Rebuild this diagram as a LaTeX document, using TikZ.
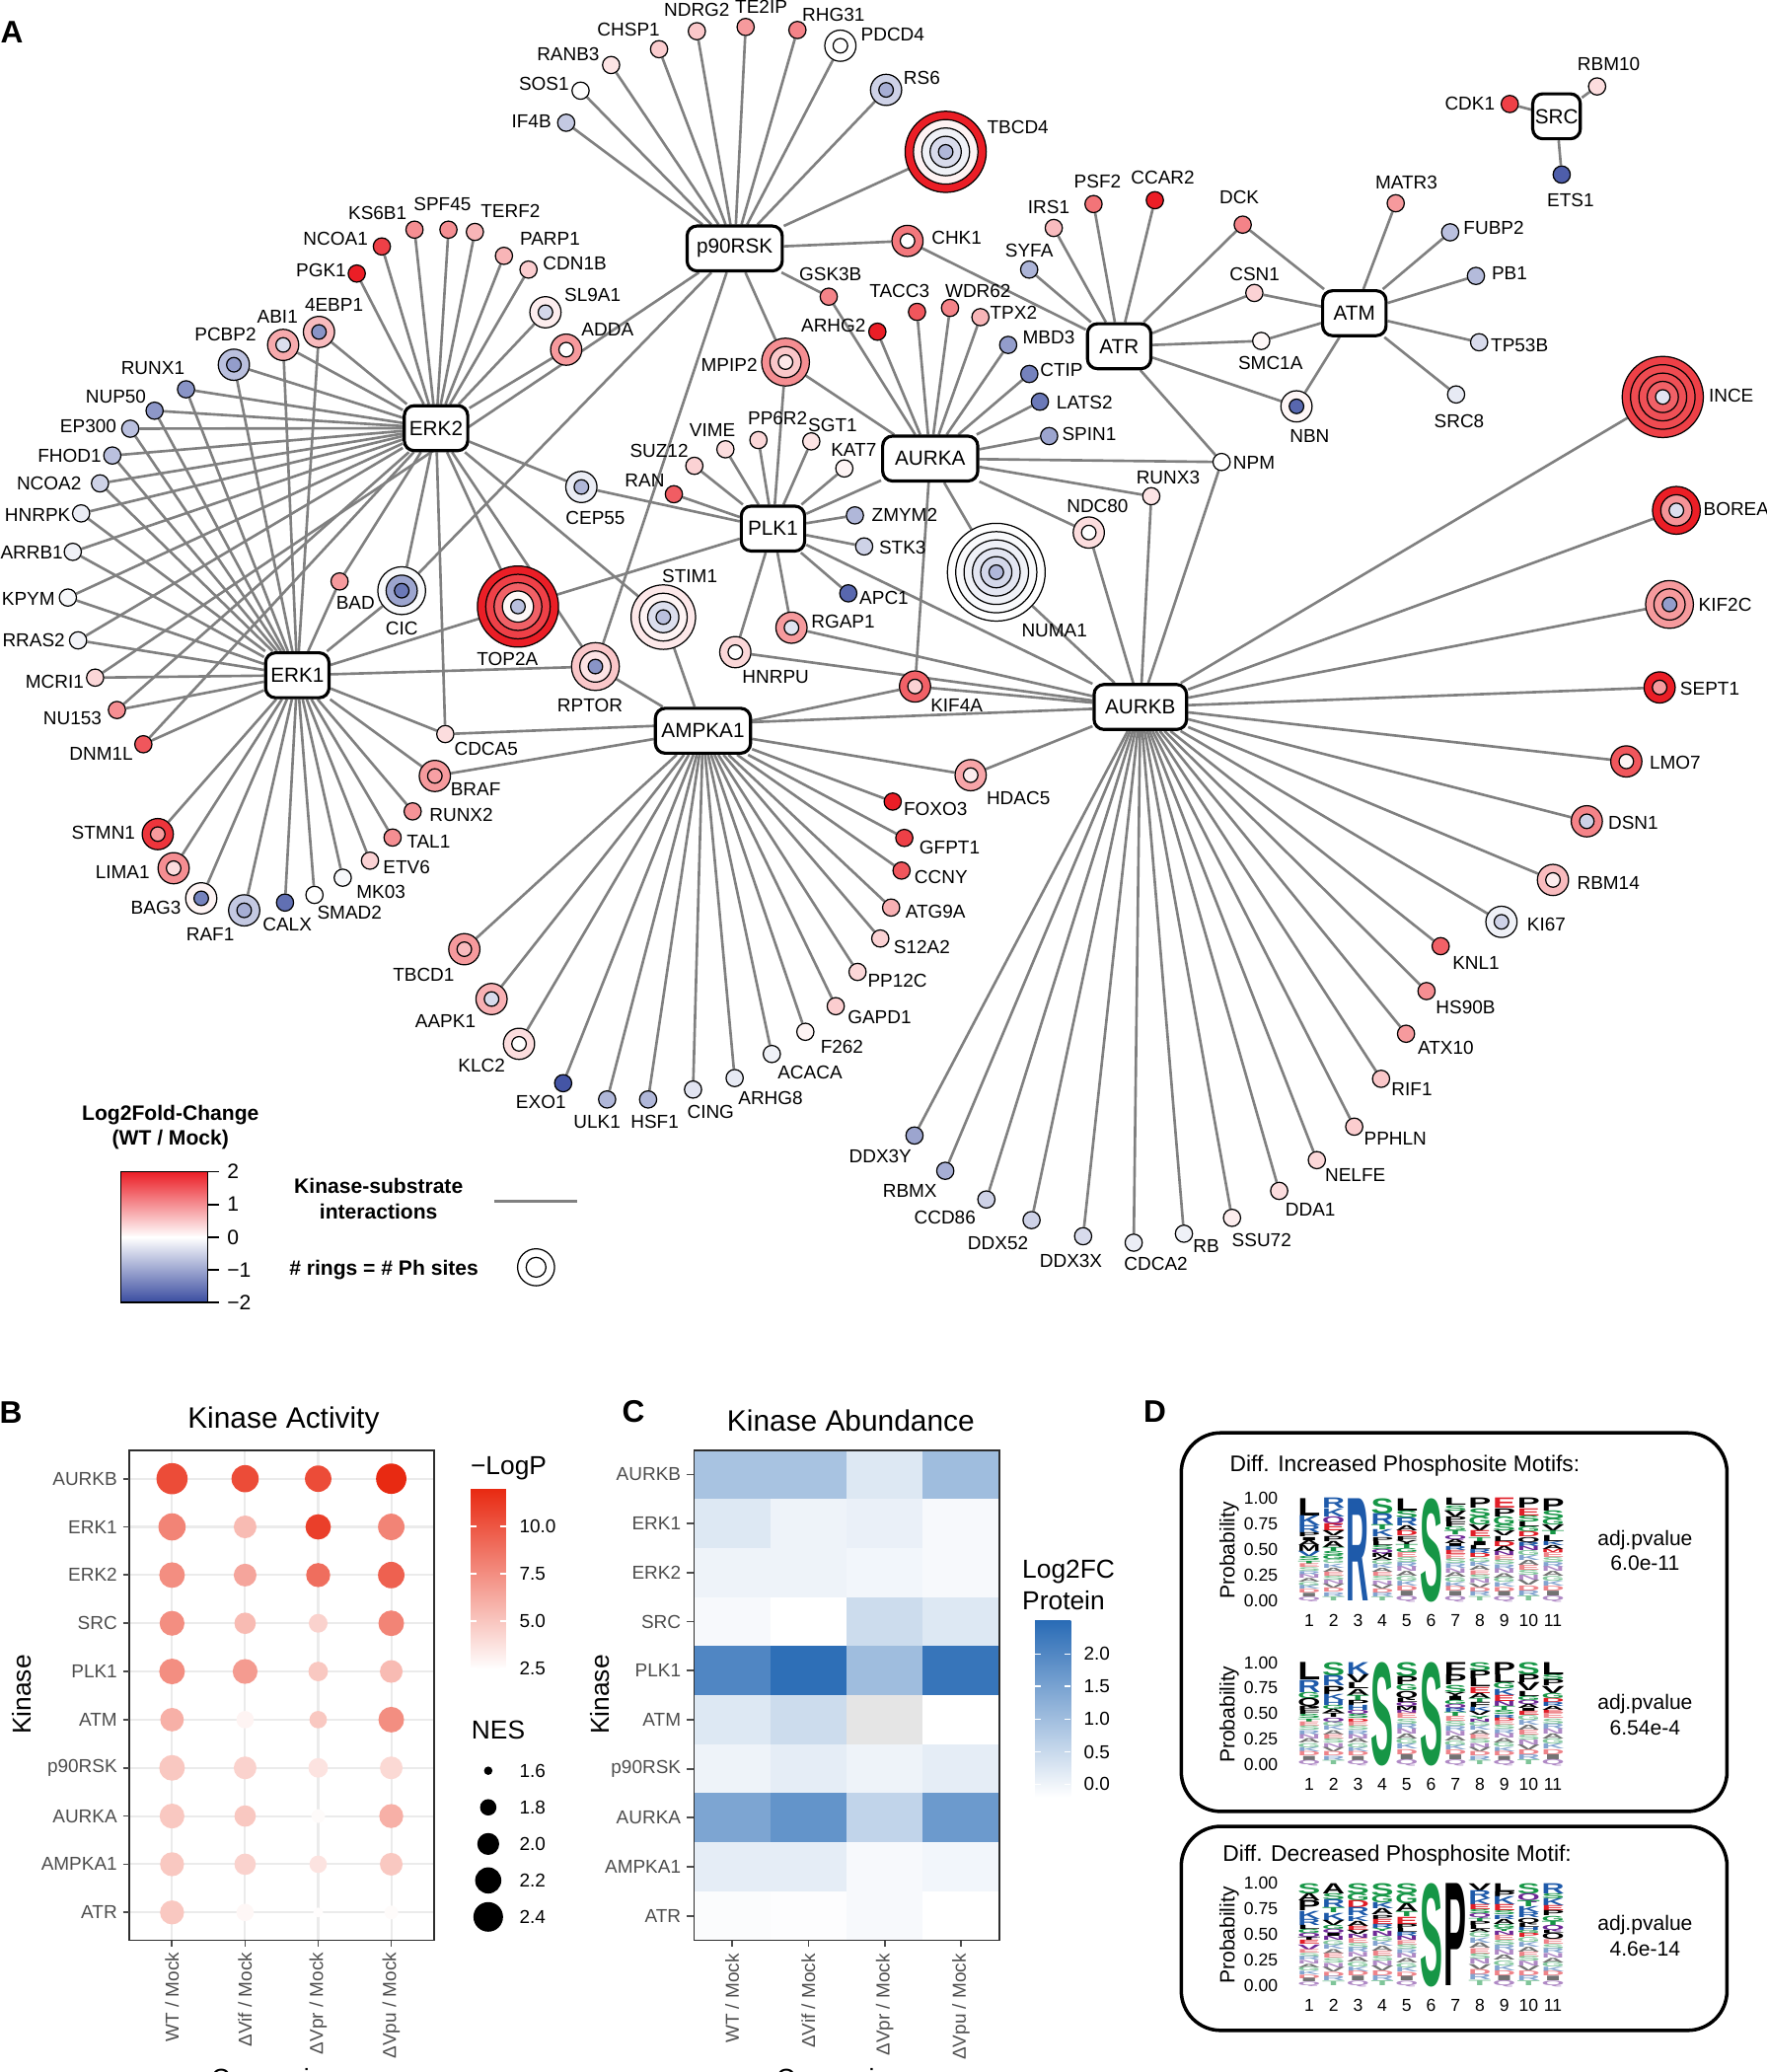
\documentclass[tikz,border=0pt]{standalone}
\usepackage{fontspec}
\setmainfont{Liberation Sans}
\setsansfont{Liberation Sans}
\usepackage{graphicx}
\usepackage{xcolor}
\definecolor{lfcred}{RGB}{235,30,38}
\definecolor{lfcblue}{RGB}{58,76,160}
\definecolor{edgegray}{RGB}{128,128,128}
\definecolor{lpred}{RGB}{232,42,18}
\definecolor{heatblue}{RGB}{42,108,182}
\definecolor{axisgray}{RGB}{77,77,77}
\definecolor{gridgray}{RGB}{235,235,235}
\definecolor{lk}{RGB}{0,0,0}
\definecolor{lg}{RGB}{22,150,70}
\definecolor{lb}{RGB}{30,90,170}
\definecolor{lr}{RGB}{225,30,40}
\definecolor{lp}{RGB}{110,40,150}
\newcommand\ovu{0.13396mm}
\pgfdeclarelayer{background}
\pgfsetlayers{background,main}
\tikzset{
  kin/.style={draw, line width=0.9pt, rounded corners=1mm, fill=white, inner sep=0,
    minimum height=34*\ovu, font=\fontsize{5.9}{6.5}\selectfont},
  sub/.style={circle, draw, line width=0.35pt, inner sep=0},
  lbl/.style={inner sep=0, font=\fontsize{5.4}{6}\selectfont},
  edge/.style={draw=edgegray, line width=0.75pt},
  panel/.style={inner sep=0, font=\bfseries\fontsize{9}{10}\selectfont},
  ttl/.style={inner sep=0, font=\fontsize{8.5}{10}\selectfont},
  axl/.style={inner sep=0, text=axisgray, font=\fontsize{5.4}{6}\selectfont},
  axt/.style={inner sep=0, font=\fontsize{7.5}{9}\selectfont},
  leg/.style={inner sep=0, font=\fontsize{5.4}{6}\selectfont},
  tick/.style={axisgray, line width=0.5pt},
  gridln/.style={gridgray, line width=0.6pt},
  logo/.style={anchor=north west, inner sep=0, outer sep=0, font=\bfseries},
}
% one column of a sequence logo: #1 position, #2 top of the axis, #3 letters from the top
\newcommand\logocol[3]{%
  \gdef\logoy{0}%
  \foreach \l/\c/\h in {#3}{
    \pgfmathsetmacro\logoh{\h*77.3*0.13396}
    \node[logo, text=\c] at ({990.8+18.45*(#1-1)-8.6},{#2+\logoy*77.3}) {\resizebox{2.3mm}{\logoh mm}{\l}};
    \pgfmathsetmacro\logotmp{\logoy+\h}\global\let\logoy\logotmp
  }
  \ifodd#1
    \def\logotail{E/lr,S/lg,R/lb,N/lp,A/lk,G/lg,K/lb,D/lr,I/lk,Q/lp}%
  \else
    \def\logotail{G/lg,K/lb,A/lk,E/lr,S/lg,N/lp,V/lk,D/lr,R/lb,T/lg}%
  \fi
  \pgfmathsetmacro\logorest{(1-\logoy)/10}
  \ifdim\logorest pt>0.002pt
    \foreach \l/\c in \logotail{
      \pgfmathsetmacro\logoh{\logorest*77.3*0.13396}
      \node[logo, text=\c!55] at ({990.8+18.45*(#1-1)-8.6},{#2+\logoy*77.3}) {\resizebox{2.3mm}{\logoh mm}{\l}};
      \pgfmathsetmacro\logotmp{\logoy+\logorest}\global\let\logoy\logotmp
    }
  \fi
}

\begin{document}
\begin{tikzpicture}[x=\ovu, y=-\ovu]
  \useasboundingbox (0,0) rectangle (1337,1568);
  \node[panel] (A-lab) at (9,24) {A};

  % kinases
  \foreach \n/\x/\y/\w in {p90RSK/556/188/72, ERK2/330/324/48, ERK1/225/511/48,
      PLK1/585/400/48, AURKA/704/347/72, ATR/847/262/48, ATM/1025/237/48,
      SRC/1178/88/36, AMPKA1/532/553/72, AURKB/863/535/70}{
    \node[kin, minimum width=\w*\ovu] (\n) at (\x,\y) {\n};
  }

  % substrates: name / x / y / sites / outer colour / label x / label y
  \foreach \n/\x/\y/\k/\c/\lx/\ly in {
      IF4B/428.5/92.9/1/lfcblue!30/402.2/91.6, SOS1/439.4/68.6/1/white/411.7/63.8,
      RANB3/462.5/49.2/1/lfcred!12/430/41.4, CHSP1/498.8/37.2/1/lfcred!22/475.7/22.7,
      NDRG2/527.4/23.6/1/lfcred!25/527.4/7.1, TE2IP/564.3/20.4/1/lfcred!45/576.1/4.9,
      RHG31/603.5/22.7/1/lfcred!55/630.8/11.3, PDCD4/636/34.6/2/white/675.6/25.9,
      RS6/670.6/68/2/lfcblue!25/697.7/58.9, TBCD4/715.7/114.9/5/lfcred!100/770.3/96.5,
      CHK1/686.8/182.3/2/lfcred!60/724/179.7, GSK3B/627.2/224.5/1/lfcred!55/628.5/207.2,
      MPIP2/594.5/274/3/lfcred!50/551.9/275.8,
      PGK1/270/207/1/lfcred!100/243/204.6, NCOA1/289/186.5/1/lfcred!85/254/181,
      KS6B1/313.7/173.8/1/lfcred!50/285.7/160.9, SPF45/339.4/173.8/1/lfcred!50/334.8/154.8,
      TERF2/359.4/175.5/1/lfcred!33/386.3/160, PARP1/381.4/193.6/1/lfcred!33/416.2/180.6,
      CDN1B/400/204/1/lfcred!22/435/199.1, SL9A1/412.8/236.3/2/lfcred!8/448.5/223.4,
      ADDA/428.5/264.6/2/lfcred!45/459.8/249, 4EBP1/241.4/251.2/2/lfcred!30/252.8/230.5,
      ABI1/214.3/261/2/lfcred!38/210/239.6, PCBP2/177/276/2/lfcblue!35/170.6/253,
      RUNX1/140.8/294.6/1/lfcblue!60/115.7/278.4, NUP50/117/310.8/1/lfcblue!58/87.7/300,
      EP300/98.6/324.4/1/lfcblue!35/66.8/322.7, FHOD1/85/344.7/1/lfcblue!35/52.6/344.7,
      NCOA2/75.7/365.8/1/lfcblue!25/37.1/365.8, HNRPK/61.4/388.5/1/lfcblue!10/28.5/390,
      ARRB1/55.1/417.6/1/lfcblue!8/24/418.2, KPYM/51.4/452.2/1/lfcblue!4/21.5/453,
      RRAS2/59.1/484.6/1/lfcblue!6/25.5/484.6, MCRI1/72/512.8/1/lfcred!18/41.4/516,
      NU153/88.5/537.3/1/lfcred!50/54.9/543.8, DNM1L/108.5/563.2/1/lfcred!75/76.6/570.3,
      CEP55/440/368.5/2/lfcblue!10/450.6/392, BAD/257/440/1/lfcred!45/269/456,
      CIC/304/447/3/lfcblue!3/304/475.5, TOP2A/392/459/5/lfcred!100/384/498.7,
      STIM1/502/467/4/lfcred!10/522/436, RPTOR/450.6/504.4/3/lfcred!25/446.5/533.7,
      CDCA5/337/555.5/1/lfcred!15/367.9/567,
      STMN1/119.4/631.2/2/lfcred!90/78.3/630.3, LIMA1/131.4/657/2/lfcred!50/92.8/659.7,
      BAG3/152.3/679.8/2/lfcred!5/118/686.9, RAF1/184.8/688.9/2/lfcblue!30/159.1/707.3,
      CALX/215.7/683/1/lfcblue!80/217.4/699.8, SMAD2/238/677.2/1/white/264.5/690.8,
      MK03/259.4/664.2/1/lfcblue!4/288.3/674.9, ETV6/280/651.3/1/lfcred!20/307.7/656.2,
      TAL1/297.1/633.8/1/lfcred!50/324.3/636.8, RUNX2/312.3/614/1/lfcred!48/349.1/616.7,
      BRAF/329.1/587.2/2/lfcred!45/360/597.2,
      SUZ12/525.5/352.5/1/lfcred!20/498.8/341.5, VIME/549/340/1/lfcred!15/539.2/325.3,
      PP6R2/574/333/1/lfcred!18/588.5/316.6, SGT1/614/334/1/lfcred!12/630.1/322.1,
      KAT7/639/354.5/1/lfcred!5/646.1/340.5, RAN/510/374/1/lfcred!72/487.9/363.5,
      ZMYM2/647/390/1/lfcblue!40/684.6/390, STK3/654/413.5/1/lfcblue!25/683/414.4,
      APC1/642/449/1/lfcblue!85/669/452.6, RGAP1/599/475/2/lfcred!45/638/470.4,
      HNRPU/556.5/493.5/2/lfcred!18/587/512,
      ARHG2/664/251/1/lfcred!100/630.8/246.7, TACC3/694/236/1/lfcred!75/680.8/220.1,
      WDR62/719/233/1/lfcred!55/740.2/220.1, TPX2/742/240/1/lfcred!33/767.1/236.3,
      MBD3/763/261/1/lfcblue!55/793.7/255.1, CTIP/779/283/1/lfcblue!70/803.4/280,
      LATS2/787/304/1/lfcblue!75/820.8/304.3, SPIN1/794/330/1/lfcblue!50/824.3/328.6,
      NDC80/824/403/2/lfcred!15/830.6/383, RUNX3/871.3/375.5/1/lfcred!12/884/361,
      NUMA1/754/433/6/white/798/477.5, KIF4A/692.5/519.5/2/lfcred!70/724/534,
      SYFA/778.9/204/1/lfcblue!42/778.9/189.4, IRS1/797.5/172.5/1/lfcred!30/793.7/156.4,
      PSF2/827.6/154.4/1/lfcred!62/830.6/137.6, CCAR2/874/151.5/1/lfcred!100/880/134.5,
      DCK/940.5/170/1/lfcred!55/937.9/149.6, CSN1/949.3/221.7/1/lfcred!20/949.5/207.2,
      SMC1A/954.5/258/1/lfcred!3/961.5/274.5, NBN/981.2/307.5/2/lfcred!4/991.1/330.2,
      NPM/924.5/349.6/1/white/949/350.3, MATR3/1056.3/153.8/1/lfcred!45/1064.4/138.2,
      FUBP2/1097.5/175.8/1/lfcblue!35/1130.5/172.5, PB1/1117/208.8/1/lfcblue!38/1142.4/206.5,
      TP53B/1119.4/259/1/lfcblue!20/1150/261.5, SRC8/1102/298.5/1/lfcblue!12/1104.3/318.9,
      CDK1/1142.6/78.7/1/lfcred!85/1112.4/78.7, RBM10/1208.7/65.4/1/lfcred!15/1217.5/48.6,
      ETS1/1181.9/132.1/1/lfcblue!90/1188.6/151.5,
      TBCD1/351.4/718.3/2/lfcred!45/320.6/737.8, AAPK1/372/756/2/lfcred!35/337.1/772.6,
      KLC2/392.8/789.9/2/lfcred!15/364.5/806, EXO1/426.2/819.7/1/lfcblue!95/409.4/834.2,
      ULK1/459.5/832/1/lfcblue!40/451.9/848.8, HSF1/490.5/832/1/lfcblue!40/495.5/848.8,
      CING/524.5/824.5/1/lfcblue!15/537.8/841.7, ARHG8/556/815.8/1/lfcblue!12/583.2/830.9,
      ACACA/584.1/797.6/1/lfcblue!8/613/811.5, F262/609.5/780.8/1/lfcred!5/637.2/792,
      GAPD1/632.5/761.4/1/lfcred!22/665.6/769.5, PP12C/649/735.5/1/lfcred!18/679.2/742,
      S12A2/666.2/710.2/1/lfcred!20/697.7/717, ATG9A/674.4/686.8/1/lfcred!35/708/690,
      CCNY/682.3/658.8/1/lfcred!75/712.2/663.6, GFPT1/684.4/634.1/1/lfcred!85/718.7/641.6,
      FOXO3/675.6/606.6/1/lfcred!100/708/612.5, HDAC5/734.6/586.6/2/lfcred!40/770.7/603.7,
      INCE/1258.4/300.4/5/lfcred!85/1310.2/299.4, BOREA/1268.7/386.2/3/lfcred!100/1314/385.2,
      KIF2C/1263.5/457.4/3/lfcred!45/1305.6/457.4, SEPT1/1256/520.2/2/lfcred!100/1294/521.2,
      LMO7/1230.8/576.2/2/lfcred!75/1267.8/577.5, DSN1/1200.9/621.5/2/lfcred!55/1236/622.8,
      RBM14/1175.3/665.9/2/lfcred!30/1217.2/668.4, KI67/1136.3/697.6/2/lfcblue!8/1170.4/699.9,
      KNL1/1090.3/716/1/lfcred!70/1117/729, HS90B/1079.6/750/1/lfcred!50/1109.2/762.3,
      ATX10/1064.1/782.3/1/lfcred!45/1094.2/793, RIF1/1045.2/816.4/1/lfcred!25/1068.5/824.5,
      PPHLN/1024.9/852.6/1/lfcred!22/1056/861.7, NELFE/996.6/877.9/1/lfcred!18/1025.7/889.2,
      DDA1/968.1/901.2/1/lfcred!15/991.7/915.2, SSU72/932.4/921.6/1/lfcred!8/954.8/938.8,
      RB/896/933.6/1/lfcblue!8/912.9/943.3, CDCA2/858/940.4/1/lfcblue!10/874.8/956.3,
      DDX3X/819.7/935.5/1/lfcblue!20/810.5/954.2, DDX52/780.7/923.3/1/lfcblue!25/755.3/940.4,
      CCD86/746.5/907.7/1/lfcblue!25/715.1/921.6, RBMX/715.4/886/1/lfcblue!45/688.6/901.2,
      DDX3Y/692.1/859.3/1/lfcblue!50/666.2/874.7}{
    \pgfmathsetmacro\dd{\k==1 ? 13 : 11+12.6*(\k-1)}
    \node[sub, fill=\c, minimum size=\dd*\ovu] (\n) at (\x,\y) {};
    \node[lbl] (\n-l) at (\lx,\ly) {\n};
  }
  % inner rings, one per extra site
  \foreach \n/\k/\c in {PDCD4/1/white, RS6/1/lfcblue!45,
      TBCD4/4/lfcred!6, TBCD4/3/lfcblue!8, TBCD4/2/lfcblue!20, TBCD4/1/lfcblue!40,
      CHK1/1/white, MPIP2/2/lfcred!25, MPIP2/1/lfcred!10,
      SL9A1/1/lfcblue!22, ADDA/1/white, 4EBP1/1/lfcblue!60, ABI1/1/lfcblue!18, PCBP2/1/lfcblue!55,
      CEP55/1/lfcblue!40, CIC/2/lfcblue!50, CIC/1/lfcblue!75,
      TOP2A/4/lfcred!85, TOP2A/3/lfcred!70, TOP2A/2/lfcred!3, TOP2A/1/lfcblue!35,
      STIM1/3/lfcred!5, STIM1/2/lfcblue!18, STIM1/1/lfcblue!35,
      RPTOR/2/lfcred!12, RPTOR/1/lfcblue!60,
      STMN1/1/lfcred!45, LIMA1/1/lfcred!15, BAG3/1/lfcblue!70, RAF1/1/lfcblue!45, BRAF/1/lfcred!42,
      RGAP1/1/lfcblue!15, HNRPU/1/white, NDC80/1/white,
      NUMA1/5/lfcblue!3, NUMA1/4/lfcblue!8, NUMA1/3/lfcblue!14, NUMA1/2/lfcblue!22, NUMA1/1/lfcblue!40,
      KIF4A/1/lfcred!20, NBN/1/lfcblue!85,
      TBCD1/1/lfcred!30, AAPK1/1/lfcblue!20, KLC2/1/white, HDAC5/1/lfcred!8,
      INCE/4/lfcred!80, INCE/3/lfcred!78, INCE/2/lfcred!70, INCE/1/lfcblue!15,
      BOREA/2/lfcred!48, BOREA/1/lfcblue!18, KIF2C/2/lfcred!45, KIF2C/1/lfcblue!55,
      SEPT1/1/lfcred!45, LMO7/1/lfcred!5, DSN1/1/lfcblue!25, RBM14/1/lfcred!8, KI67/1/lfcblue!25}{
    \pgfmathsetmacro\dd{11+12.6*(\k-1)}
    \node[sub, fill=\c, minimum size=\dd*\ovu] (\n-r\k) at (\n.center) {};
  }

  % kinase-substrate interactions
  \begin{pgfonlayer}{background}
    \foreach \s in {PGK1,NCOA1,KS6B1,SPF45,TERF2,PARP1,CDN1B,SL9A1,ADDA,4EBP1,ABI1,PCBP2,
        RUNX1,NUP50,EP300,FHOD1,NCOA2,HNRPK,ARRB1,KPYM,RRAS2,NU153,DNM1L,CEP55,BAD,CIC,
        TOP2A,STIM1,RPTOR,CDCA5}
      \draw[edge] (ERK2) -- (\s);
    \foreach \s in {4EBP1,ABI1,PCBP2,RUNX1,NUP50,EP300,FHOD1,NCOA2,HNRPK,ARRB1,KPYM,RRAS2,
        MCRI1,NU153,DNM1L,STMN1,LIMA1,BAG3,RAF1,CALX,SMAD2,MK03,ETV6,TAL1,RUNX2,BRAF,
        CDCA5,BAD,CIC,TOP2A,RPTOR}
      \draw[edge] (ERK1) -- (\s);
    \foreach \s in {IF4B,SOS1,RANB3,CHSP1,NDRG2,TE2IP,RHG31,PDCD4,RS6,TBCD4,CHK1,GSK3B,
        MPIP2,RPTOR,CIC,MCRI1}
      \draw[edge] (p90RSK) -- (\s);
    \foreach \s in {SUZ12,VIME,PP6R2,SGT1,KAT7,RAN,ZMYM2,STK3,APC1,RGAP1,HNRPU,CEP55,
        TOP2A,MPIP2,AURKA,AURKB}
      \draw[edge] (PLK1) -- (\s);
    \foreach \s in {GSK3B,ARHG2,TACC3,WDR62,TPX2,MBD3,CTIP,LATS2,SPIN1,MPIP2,NDC80,RUNX3,
        NPM,KIF4A,NUMA1}
      \draw[edge] (AURKA) -- (\s);
    \foreach \s in {CHK1,SYFA,IRS1,PSF2,CCAR2,DCK,CSN1,SMC1A,NBN,NPM}
      \draw[edge] (ATR) -- (\s);
    \foreach \s in {DCK,CSN1,SMC1A,NBN,MATR3,FUBP2,PB1,TP53B,SRC8}
      \draw[edge] (ATM) -- (\s);
    \foreach \s in {CDK1,RBM10,ETS1}
      \draw[edge] (SRC) -- (\s);
    \foreach \s in {RPTOR,STIM1,BRAF,KIF4A,HDAC5,FOXO3,GFPT1,CCNY,ATG9A,S12A2,PP12C,GAPD1,
        F262,ACACA,ARHG8,CING,HSF1,ULK1,EXO1,KLC2,AAPK1,TBCD1}
      \draw[edge] (AMPKA1) -- (\s);
    \foreach \s in {INCE,BOREA,KIF2C,SEPT1,LMO7,DSN1,RBM14,KI67,KNL1,HS90B,ATX10,RIF1,PPHLN,
        NELFE,DDA1,SSU72,RB,CDCA2,DDX3X,DDX52,CCD86,RBMX,DDX3Y,HDAC5,KIF4A,NUMA1,NDC80,
        RUNX3,NPM,HNRPU,RGAP1,CDCA5}
      \draw[edge] (AURKB) -- (\s);
  \end{pgfonlayer}

  % legend of panel A
  \node[inner sep=0, align=center, font=\bfseries\fontsize{6}{7.2}\selectfont] (lfc-t) at (129,853) {Log2Fold-Change\\(WT / Mock)};
  \shade[top color=lfcred, bottom color=white] (91.4,886.7) rectangle (157.1,936.2);
  \shade[top color=white, bottom color=lfcblue] (91.4,936.2) rectangle (157.1,985.7);
  \draw[line width=0.4pt] (91.4,886.7) rectangle (157.1,985.7);
  \foreach \v/\t in {2/2,1/1,0/0,-1/−1,-2/−2}{
    \draw[line width=0.5pt] (157.1,{936.2-\v*24.75}) -- (165.7,{936.2-\v*24.75});
    \node[anchor=west, inner sep=0, font=\fontsize{6}{7}\selectfont] (lfc-\v) at (171.4,{936.2-\v*24.75}) {\t};
  }
  \node[inner sep=0, align=center, font=\bfseries\fontsize{6}{7.4}\selectfont] (ks-t) at (286.5,907) {Kinase-substrate\\interactions};
  \coordinate (ks-a) at (374,909.2);
  \coordinate (ks-b) at (437,909.2);
  \draw[edge] (ks-a) -- (ks-b);
  \node[inner sep=0, font=\bfseries\fontsize{6}{7}\selectfont] (ph-t) at (290.5,961) {\# rings = \# Ph sites};
  \node[circle, draw, line width=0.35pt, minimum size=28*\ovu, inner sep=0] (ph-o) at (405.7,959) {};
  \node[circle, draw, line width=0.35pt, minimum size=15*\ovu, inner sep=0] (ph-i) at (ph-o.center) {};

  % B: kinase activity
  \node[panel] (B-lab) at (8.3,1069) {B};
  \node[ttl] (B-ttl) at (214.6,1075) {Kinase Activity};
  \foreach \i in {0,...,9}
    \draw[gridln] (98,{1119+\i*36.47}) -- (328.5,{1119+\i*36.47});
  \foreach \i in {0,...,3}
    \draw[gridln] ({130.2+\i*55.3},1097.3) -- ({130.2+\i*55.3},1468.3);
  \foreach \r/\c/\rad/\p in {
      1/1/11.8/84, 1/2/10.3/84, 1/3/10/84, 1/4/11.5/100,
      2/1/10.3/58, 2/2/8.6/32, 2/3/9.6/90, 2/4/10/58,
      3/1/9.7/53, 3/2/8.6/42, 3/3/9.1/68, 3/4/10/74,
      4/1/9.4/53, 4/2/8.1/32, 4/3/7.1/21, 4/4/9.7/58,
      5/1/9.7/53, 5/2/9.4/47, 5/3/7.4/26, 5/4/8.6/32,
      6/1/8.9/37, 6/2/6.6/5, 6/3/6.6/26, 6/4/9.7/53,
      7/1/9.7/26, 7/2/8.6/21, 7/3/7.4/13, 7/4/8.6/18,
      8/1/9.4/26, 8/2/8.1/26, 8/3/5.2/2, 8/4/9.1/37,
      9/1/9.1/26, 9/2/8.1/21, 9/3/6.6/13, 9/4/8.6/26,
      10/1/9.1/26, 10/2/6.6/4, 10/3/3.7/1, 10/4/5.2/2}
    \fill[lpred!\p!white] ({130.2+(\c-1)*55.3},{1119+(\r-1)*36.47}) circle[radius=\rad*\ovu];
  \draw[axisgray!60!black, line width=0.5pt] (98,1097.3) rectangle (328.5,1468.3);
  \foreach \k [count=\i] in {AURKB,ERK1,ERK2,SRC,PLK1,ATM,p90RSK,AURKA,AMPKA1,ATR}{
    \node[axl, anchor=east] (Bk-\i) at (89.2,{1119+(\i-1)*36.47}) {\k};
    \draw[tick] (93,{1119+(\i-1)*36.47}) -- (98,{1119+(\i-1)*36.47});
  }
  \foreach \t [count=\i] in {{WT / Mock},{ΔVif / Mock},{ΔVpr / Mock},{ΔVpu / Mock}}{
    \node[axl, rotate=90, anchor=east] (Bc-\i) at ({130.2+(\i-1)*55.3},1477) {\t};
    \draw[tick] ({130.2+(\i-1)*55.3},1468.3) -- ({130.2+(\i-1)*55.3},1473);
  }
  \node[axt, rotate=90] (B-y) at (16.2,1282.4) {Kinase};
  \node[axt, anchor=north] (B-x) at (213,1565) {Comparison};
  \node[axt, anchor=west] (B-lp) at (355.7,1110.8) {−LogP};
  \shade[top color=lpred, bottom color=white] (356.3,1126.8) rectangle (382.9,1263.4);
  \foreach \y/\t in {1154.8/10.0,1191/7.5,1226.7/5.0,1262.7/2.5}{
    \draw[white, line width=0.5pt] (356.3,\y) -- (361,\y);
    \draw[white, line width=0.5pt] (378.2,\y) -- (382.9,\y);
    \node[leg, anchor=west] (lp-\t) at (392.6,\y) {\t};
  }
  \node[axt, anchor=west] (B-nes) at (356.3,1309.4) {NES};
  \foreach \y/\rad/\t in {1340/3.2/1.6,1367.7/6.2/1.8,1395.4/8.3/2.0,1423/9.9/2.2,1450.6/11.2/2.4}{
    \fill (369.5,\y) circle[radius=\rad*\ovu];
    \node[leg, anchor=west] (nes-\t) at (392.6,\y) {\t};
  }

  % C: kinase abundance
  \node[panel] (C-lab) at (479.3,1068.5) {C};
  \node[ttl] (C-ttl) at (643.9,1075) {Kinase Abundance};
  \foreach \r/\c/\p in {
      1/1/41, 1/2/41, 1/3/16, 1/4/45,
      2/1/16, 2/2/8, 2/3/10, 2/4/4,
      3/1/8, 3/2/8, 3/3/6, 3/4/4,
      4/1/4, 4/2/0, 4/3/24, 4/4/16,
      5/1/82, 5/2/98, 5/3/45, 5/4/94,
      6/1/16, 6/2/24, 6/4/0,
      7/1/8, 7/2/12, 7/3/8, 7/4/12,
      8/1/61, 8/2/73, 8/3/29, 8/4/69,
      9/1/12, 9/2/12, 9/3/4, 9/4/6,
      10/1/2, 10/2/1, 10/3/4, 10/4/0}
    \fill[heatblue!\p!white] ({525.2+(\c-1)*57.73},{1097.3+(\r-1)*37.1}) rectangle +(57.73,37.1);
  \fill[black!10] ({525.2+2*57.73},{1097.3+5*37.1}) rectangle +(57.73,37.1);
  \draw[axisgray!60!black, line width=0.5pt] (525.2,1097.3) rectangle (756.1,1468.3);
  \foreach \k [count=\i] in {AURKB,ERK1,ERK2,SRC,PLK1,ATM,p90RSK,AURKA,AMPKA1,ATR}{
    \node[axl, anchor=east] (Ck-\i) at (515.8,{1115.9+(\i-1)*37.1}) {\k};
    \draw[tick] (519.5,{1115.9+(\i-1)*37.1}) -- (525.2,{1115.9+(\i-1)*37.1});
  }
  \foreach \t [count=\i] in {{WT / Mock},{ΔVif / Mock},{ΔVpr / Mock},{ΔVpu / Mock}}{
    \node[axl, rotate=90, anchor=east] (Cc-\i) at ({554.1+(\i-1)*57.73},1478) {\t};
    \draw[tick] ({554.1+(\i-1)*57.73},1468.3) -- ({554.1+(\i-1)*57.73},1473);
  }
  \node[axt, rotate=90] (C-y) at (453.8,1282.4) {Kinase};
  \node[axt, anchor=north] (C-x) at (640.6,1565) {Comparison};
  \node[axt, anchor=west, align=left] (C-lg) at (773.2,1199.5) {Log2FC\\Protein};
  \shade[top color=heatblue, bottom color=white] (783.3,1226.7) rectangle (810.5,1360);
  \foreach \y/\t in {1251.7/2.0,1276/1.5,1301/1.0,1325.7/0.5,1350.3/0.0}{
    \draw[white, line width=0.5pt] (783.3,\y) -- (788,\y);
    \draw[white, line width=0.5pt] (805.8,\y) -- (810.5,\y);
    \node[leg, anchor=west] (hb-\t) at (819.8,\y) {\t};
  }

  % D: motifs
  \node[panel] (D-lab) at (874,1068) {D};
  \draw[line width=1pt, rounded corners=4mm] (894,1084.3) rectangle (1307,1370.8);
  \draw[line width=1pt, rounded corners=4mm] (894,1382.1) rectangle (1307,1536.5);
  \node[inner sep=0, font=\fontsize{6.5}{8}\selectfont] (D-t1) at (1063.2,1109.3) {Diff. Increased Phosphosite Motifs:};
  \node[inner sep=0, font=\fontsize{6.5}{8}\selectfont] (D-t2) at (1057.4,1404.2) {Diff. Decreased Phosphosite Motif:};
  \foreach \top/\pv [count=\j] in {1133.9/6.0e-11, 1258.1/6.54e-4, 1425.2/4.6e-14}{
    \node[inner sep=0, rotate=90, font=\fontsize{6}{7}\selectfont] (prob-\j) at (930.3,{\top+39.4}) {Probability};
    \foreach \v/\t in {0/1.00,1/0.75,2/0.50,3/0.25,4/0.00}
      \node[inner sep=0, anchor=east, font=\fontsize{5}{6}\selectfont] (pt-\j-\v) at (967.5,{\top+\v*19.33}) {\t};
    \foreach \i in {1,...,11}
      \node[inner sep=0, font=\fontsize{5}{6}\selectfont] (pos-\j-\i) at ({990.8+18.45*(\i-1)},{\top+92.5}) {\i};
    \node[inner sep=0, align=center, font=\fontsize{6}{7.2}\selectfont] (pv-\j) at (1245,{\top+39.6}) {adj.pvalue\\\pv};
  }
  % logo 1
  \logocol{1}{1133.9}{L/lk/.17,K/lb/.10,R/lb/.07,P/lk/.04,I/lk/.03,A/lk/.05,M/lk/.06,V/lb/.05,S/lg/.04,T/lg/.03}
  \logocol{2}{1133.9}{R/lb/.10,K/lb/.08,Q/lp/.07,E/lr/.07,V/lk/.05,P/lk/.05,A/lk/.06,T/lg/.04,S/lg/.04,G/lg/.04}
  \logocol{3}{1133.9}{R/lb/1}
  \logocol{4}{1133.9}{S/lg/.15,R/lb/.11,T/lg/.05,K/lb/.07,P/lk/.04,L/lk/.04,S/lg/.04,Q/lp/.04,M/lk/.04,A/lk/.03}
  \logocol{5}{1133.9}{L/lk/.12,S/lg/.07,R/lb/.08,A/lk/.05,D/lr/.05,F/lk/.04,Y/lk/.04,T/lg/.04,G/lg/.04}
  \logocol{6}{1133.9}{S/lg/1}
  \logocol{7}{1133.9}{L/lk/.07,S/lg/.05,V/lk/.06,P/lk/.05,F/lk/.05,G/lg/.04,T/lg/.04,Q/lp/.04,A/lk/.04,I/lk/.03,R/lb/.04,E/lr/.04}
  \logocol{8}{1133.9}{P/lk/.10,S/lg/.08,G/lg/.08,V/lk/.06,E/lr/.06,T/lg/.04,I/lk/.04,L/lk/.04,R/lb/.04,D/lr/.04}
  \logocol{9}{1133.9}{E/lr/.10,P/lk/.08,G/lg/.08,S/lg/.06,V/lk/.05,L/lk/.05,D/lr/.05,A/lk/.05,N/lp/.04}
  \logocol{10}{1133.9}{P/lk/.10,E/lr/.07,S/lg/.06,L/lk/.05,G/lg/.05,D/lr/.05,Q/lk/.05,R/lb/.04,N/lp/.04}
  \logocol{11}{1133.9}{P/lk/.12,S/lg/.08,G/lg/.06,V/lk/.06,T/lg/.04,L/lk/.06,K/lb/.04,A/lk/.04,M/lr/.03}
  % logo 2
  \logocol{1}{1258.1}{L/lk/.17,R/lb/.12,G/lg/.06,Q/lk/.08,P/lk/.04,F/lk/.04,S/lg/.04,T/lg/.03}
  \logocol{2}{1258.1}{S/lg/.13,R/lb/.10,P/lk/.08,K/lb/.06,H/lb/.05,G/lg/.04,A/lk/.04,T/lk/.04,Q/lp/.04}
  \logocol{3}{1258.1}{K/lb/.12,V/lk/.08,L/lk/.06,A/lk/.06,T/lg/.05,P/lk/.05,H/lb/.05,Q/lp/.04,S/lg/.04,D/lr/.03}
  \logocol{4}{1258.1}{S/lg/1}
  \logocol{5}{1258.1}{S/lg/.14,P/lk/.08,G/lg/.06,Q/lk/.07,L/lk/.04,Q/lp/.04,M/lk/.04,N/lp/.03}
  \logocol{6}{1258.1}{S/lg/1}
  \logocol{7}{1258.1}{F/lk/.12,P/lk/.10,S/lg/.07,Y/lk/.04,I/lk/.04,G/lg/.04,Q/lp/.04,R/lb/.04,T/lg/.04}
  \logocol{8}{1258.1}{S/lg/.08,P/lk/.08,L/lk/.08,E/lr/.06,A/lk/.05,T/lg/.04,F/lk/.05,K/lb/.04,V/lk/.04,Y/lg/.03,N/lp/.03}
  \logocol{9}{1258.1}{P/lk/.12,L/lk/.08,G/lg/.06,K/lb/.06,E/lr/.06,N/lp/.05,T/lg/.04,S/lg/.04,R/lb/.03,D/lr/.03}
  \logocol{10}{1258.1}{S/lg/.12,P/lk/.08,V/lk/.08,L/lk/.05,G/lg/.04,Q/lp/.04,A/lk/.04,I/lk/.03,E/lr/.04}
  \logocol{11}{1258.1}{L/lk/.12,S/lg/.05,P/lk/.06,V/lk/.07,G/lg/.05,D/lr/.04,R/lb/.04,A/lk/.04,E/lr/.03}
  % logo 3
  \logocol{1}{1425.2}{S/lg/.10,A/lk/.07,P/lk/.10,K/lb/.08,R/lb/.06,L/lk/.04,G/lg/.04,Q/lp/.04,T/lk/.03,E/lr/.04,V/lp/.05}
  \logocol{2}{1425.2}{A/lk/.10,S/lg/.06,R/lb/.08,T/lg/.05,K/lb/.07,V/lk/.05,G/lg/.04,Q/lp/.04,I/lk/.03,N/lp/.04}
  \logocol{3}{1425.2}{S/lg/.10,G/lg/.07,D/lr/.07,R/lb/.08,K/lb/.05,A/lk/.05,E/lr/.04,V/lk/.04,N/lp/.04}
  \logocol{4}{1425.2}{S/lg/.12,G/lg/.07,K/lb/.06,A/lk/.06,P/lk/.04,E/lr/.05,R/lb/.04,Y/lg/.03,N/lp/.05}
  \logocol{5}{1425.2}{S/lg/.10,G/lg/.10,A/lk/.08,T/lg/.05,E/lr/.07,P/lk/.04,L/lk/.04,R/lb/.04,N/lp/.04}
  \logocol{6}{1425.2}{S/lg/1}
  \logocol{7}{1425.2}{P/lk/1}
  \logocol{8}{1425.2}{V/lk/.07,R/lb/.08,K/lb/.06,E/lr/.05,S/lg/.04,Q/lp/.04,T/lg/.03,P/lk/.04,L/lk/.04,A/lk/.03}
  \logocol{9}{1425.2}{L/lk/.08,P/lk/.05,K/lb/.08,E/lr/.06,S/lg/.04,R/lb/.04,A/lk/.05,G/lg/.04,Y/lg/.03,N/lp/.04}
  \logocol{10}{1425.2}{S/lg/.10,Q/lp/.07,T/lg/.06,K/lb/.06,R/lb/.05,Q/lk/.05,L/lk/.04,H/lb/.03,G/lg/.03,P/lr/.04}
  \logocol{11}{1425.2}{R/lb/.10,S/lg/.05,K/lb/.07,E/lr/.05,P/lk/.05,G/lg/.05,T/lg/.04,Q/lp/.05,L/lk/.03,O/lk/.06}
\end{tikzpicture}
\end{document}
